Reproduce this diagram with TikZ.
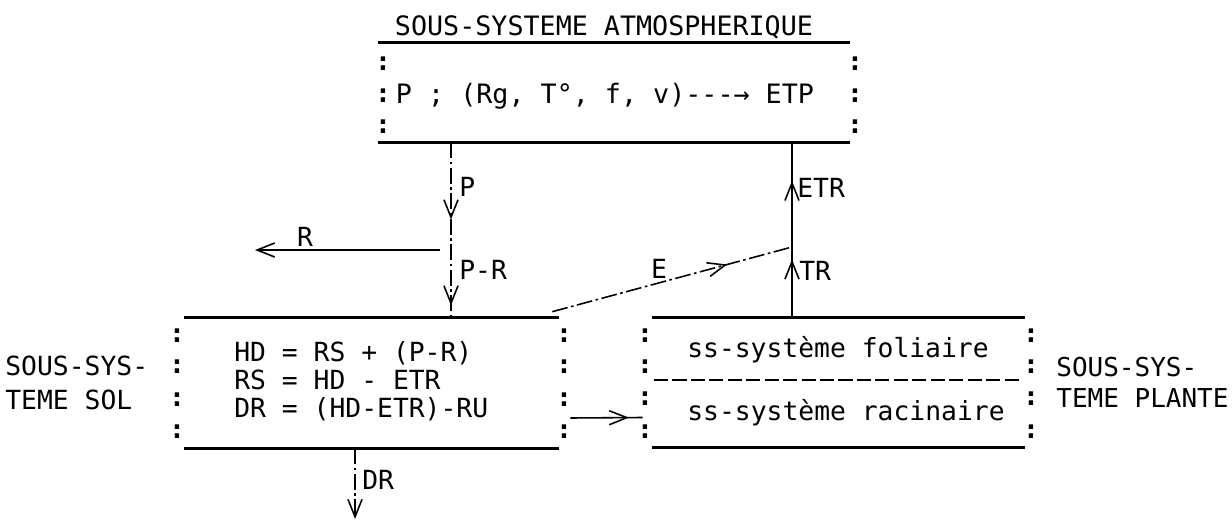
\documentclass[tikz,border=0pt]{standalone}
\usepackage{fontspec}
\setmonofont{DejaVu Sans Mono}
\usetikzlibrary{arrows.meta,decorations.markings}
\begin{document}
\begin{tikzpicture}[x=0.02cm,y=-0.02cm,
  every node/.style={font=\ttfamily\fontsize{15}{18}\selectfont, inner sep=0pt},
  boxline/.style={line width=1.7pt},
  colon/.style={font=\ttfamily\bfseries\fontsize{15}{18}\selectfont},
  tip/.style={-{Straight Barb[length=10pt,width=8pt]}},
  ddash/.style={line width=0.9pt, dash pattern=on 9pt off 2pt on 1.5pt off 2pt},
  thin line/.style={line width=0.9pt},
  midtip/.style={postaction={decorate}, decoration={markings,
     mark=at position #1 with {\arrow{Straight Barb[length=10pt,width=8pt]}}}},
  midtip2/.style 2 args={postaction={decorate}, decoration={markings,
     mark=at position #1 with {\arrow{Straight Barb[length=10pt,width=8pt]}},
     mark=at position #2 with {\arrow{Straight Barb[length=10pt,width=8pt]}}}},
  sysbox/.style={minimum height=2.6cm}
]
\useasboundingbox (0,0) rectangle (1232,521);

% ---------- atmosphere ----------
\node[minimum width=9.44cm, minimum height=1.98cm] (atm) at (614,92.5) {};
\node (atmtext) at (605,96) {\fontsize{15.2}{18}\selectfont P ; (Rg, T°, f, v)---→ ETP};
\node (atmtitle) at (604,27) {\fontsize{15.2}{18}\selectfont SOUS-SYSTEME ATMOSPHERIQUE};
\draw[boxline] (atm.north west) -- (atm.north east);
\draw[boxline] (atm.south west) -- (atm.south east);
\foreach \y [count=\i] in {64,96,127} {
  \node[colon] (atmL\i) at (383,\y) {:};
  \node[colon] (atmR\i) at (855,\y) {:};
}

% ---------- soil ----------
\node[sysbox, minimum width=7.5cm] (sol) at (371.5,383) {};
\node[anchor=west, align=left, font=\ttfamily\fontsize{15}{15.9}\selectfont] (soltext) at (234,381)
  {HD = RS + (P-R)\\RS = HD - ETR\\DR = (HD-ETR)-RU};
\draw[boxline] (sol.north west) -- (sol.north east);
\draw[boxline] (sol.south west) -- (sol.south east);
\foreach \y [count=\i] in {336,367,400,432} {
  \node[colon] (solL\i) at (177,\y) {:};
  \node[colon] (solR\i) at (564,\y) {:};
}
\node[anchor=west, align=left, font=\ttfamily\fontsize{15}{19.8}\selectfont] (sollab) at (5,383)
  {SOUS-SYS-\\TEME SOL};

% ---------- plant ----------
\node[sysbox, minimum width=7.46cm] (plant) at (838.5,382.5) {};
\draw[boxline] (plant.north west) -- (plant.north east);
\draw[boxline] (plant.south west) -- (plant.south east);
\node (fol) at (838,350) {ss-système foliaire};
\node (rac) at (846,413) {ss-système racinaire};
\draw[line width=1.5pt, dash pattern=on 8pt off 2.5pt] (654,380) -- (1021,380);
\foreach \y [count=\i] in {336,367,399,432} {
  \node[colon] (plL\i) at (645,\y) {:};
  \node[colon] (plR\i) at (1031,\y) {:};
}
\node[anchor=west, align=left, font=\ttfamily\fontsize{14.8}{17.6}\selectfont] (plantlab) at (1056,382)
  {SOUS-SYS-\\TEME PLANTE};

% ---------- flows ----------
\coordinate (pj) at (451,250);
\coordinate (ej) at (792,247);
\coordinate (rstart) at (440,250);
\coordinate (rend) at (255,250);
\coordinate (drend) at (355,519);

% P / P-R
\draw[ddash, midtip2={0.44}{0.93}] (atm.south -| pj) -- (sol.north -| pj);
\node[anchor=west] (lP) at (459,187) {P};
\node[anchor=west] (lPR) at (459,270) {P-R};
% R
\draw[thin line, tip] (rstart) -- (rend);
\node (lR) at (305,237) {R};
% ETR / TR
\draw[thin line, midtip2={0.33}{0.78}] (plant.north -| ej) -- (atm.south -| ej);
\node[anchor=west] (lETR) at (797,188) {ETR};
\node[anchor=west] (lTR) at (799,271) {TR};
% E
\draw[ddash, midtip={0.73}] ([shift={(-7,-6)}]sol.north east) -- (ej);
\node (lE) at (659,269) {E};
% soil -> plant
\draw[thin line, midtip={0.81}] ([shift={(11,35)}]sol.east) -- ([shift={(-9,35)}]plant.west);
% DR
\draw[ddash, tip] (sol.south -| drend) -- (drend);
\node[anchor=west] (lDR) at (362,480) {DR};
\end{tikzpicture}
\end{document}
